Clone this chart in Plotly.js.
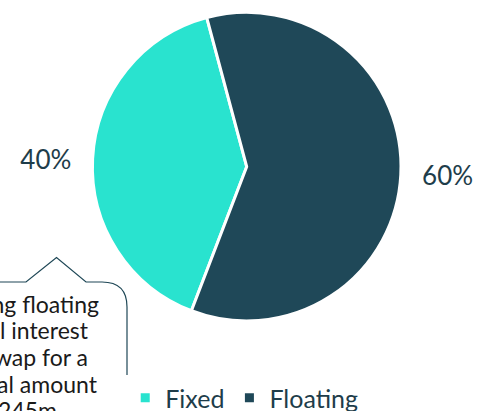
<!DOCTYPE html>
<html>
<head>
<meta charset="utf-8">
<script src="https://cdn.plot.ly/plotly-3.0.1.min.js"></script>
<style>html,body{margin:0;padding:0;background:#fff;}#chart{width:477px;height:411px;}</style>
</head>
<body>
<div id="chart"></div>
<script>
// Data
var categories = ["Fixed", "Floating"];
var shares = [40, 60];
var sliceColors = ["#29E3CF", "#1F4858"];
var calloutLines = ["Hedging floating", "rate via additional interest", "rate swap for a", "notional amount", "of £245m"];

// Layout helpers (pixel -> paper)
var W = 477, H = 411;
function px(x) { return x / W; }
function py(y) { return 1 - y / H; }

var nb = "\u00a0";
var pie = {
  type: "pie",
  labels: categories,
  values: shares,
  sort: false,
  direction: "clockwise",
  rotation: -159,
  marker: { colors: sliceColors, line: { color: "#ffffff", width: 3 } },
  textinfo: "percent",
  texttemplate: ["%{percent}" + nb + nb, nb + nb + "%{percent}"],
  textposition: "outside",
  outsidetextfont: { family: "Lato, sans-serif", size: 26, color: "#1E3D4A" },
  hoverinfo: "label+percent",
  domain: { x: [px(246.7 - 200), px(246.7 + 200)], y: [py(166.7 + 154.3), py(166.7 - 154.3)] }
};

// Callout text (pixel-space helper axes)
var lineRightEnds = [97, 86, 86, 95, 55];
var lineMids = [307, 333.7, 360.3, 387, 413.5];
var callout = {
  type: "scatter", mode: "text",
  x: lineRightEnds.map(function (v) { return v + 2; }),
  y: lineMids,
  text: calloutLines,
  textposition: "middle left",
  textfont: { family: "Lato, sans-serif", size: 23, color: "#1A1A1A" },
  cliponaxis: true,
  showlegend: false, hoverinfo: "skip",
  xaxis: "x", yaxis: "y"
};

function P(x, y) { return px(x).toFixed(5) + "," + py(y).toFixed(5); }
var path = "M" + P(-20, 282) + " L" + P(26, 282) + " L" + P(56.5, 257.5) + " L" + P(86, 282) +
           " L" + P(102, 282) + " Q" + P(127, 282) + " " + P(127, 307) + " L" + P(127, 450);

var layout = {
  width: W, height: H,
  margin: { l: 0, r: 0, t: 0, b: 0, autoexpand: false },
  paper_bgcolor: "#ffffff",
  plot_bgcolor: "rgba(0,0,0,0)",
  showlegend: true,
  xaxis: { range: [0, W], visible: false, fixedrange: true },
  yaxis: { range: [H, 0], visible: false, fixedrange: true },
  legend: {
    orientation: "h", x: 0.512, xanchor: "center", y: py(398), yanchor: "middle",
    font: { family: "Lato, sans-serif", size: 25, color: "#1E3D4A" },
    itemwidth: 30
  },
  shapes: [{ type: "path", xref: "paper", yref: "paper", path: path,
             line: { color: "#1E4756", width: 1.2 }, fillcolor: "rgba(0,0,0,0)" }]
};

Plotly.newPlot("chart", [pie, callout], layout, { displayModeBar: false, staticPlot: true });
</script>
</body>
</html>
